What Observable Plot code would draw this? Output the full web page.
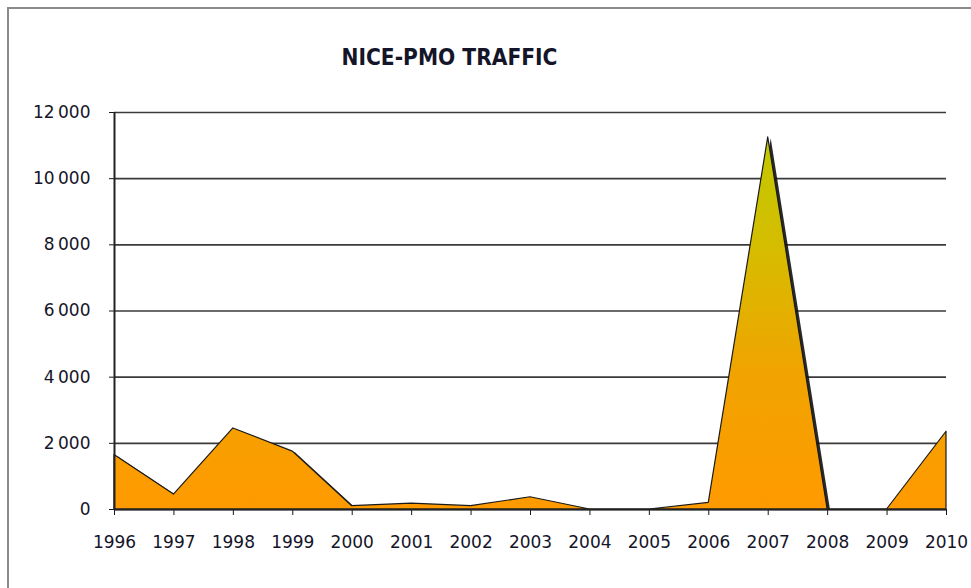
<!DOCTYPE html>
<html>
<head>
<meta charset="utf-8">
<script src="https://cdn.jsdelivr.net/npm/d3@7"></script>
<script src="https://cdn.jsdelivr.net/npm/@observablehq/plot@0.6"></script>
<style>
  html, body { margin: 0; padding: 0; background: #fff; overflow: hidden; }
  #wrap { position: relative; width: 971px; height: 588px; }
  #frame { position: absolute; left: 7px; top: 7px; width: 1000px; height: 1000px; border-left: 2px solid #8a8a8a; border-top: 2px solid #8a8a8a; }
  #title { position: absolute; left: 0; width: 899px; top: 44px; text-align: center; font-family: "DejaVu Sans Condensed", "DejaVu Sans", sans-serif; font-weight: bold; font-size: 22.5px; color: #15152a; }
  #chart { position: absolute; left: 0; top: 0; }
</style>
</head>
<body>
<div id="wrap">
  <div id="frame"></div>
  <div id="chart"></div>
  <div id="title">NICE-PMO TRAFFIC</div>
</div>
<script>
const years = [1996, 1997, 1998, 1999, 2000, 2001, 2002, 2003, 2004, 2005, 2006, 2007, 2008, 2009, 2010];
const traffic = [1650, 450, 2450, 1750, 100, 180, 100, 370, 0, 0, 200, 11250, 0, 0, 2350];
const yTicks = [0, 2000, 4000, 6000, 8000, 10000, 12000];

const data = years.map((y, i) => ({year: y, value: traffic[i]}));
const fmt = v => d3.format(",")(v).replace(/,/g, "\u2009");

const chart = Plot.plot({
  width: 971,
  height: 588,
  marginLeft: 114,
  marginRight: 25,
  marginTop: 112,
  marginBottom: 79,
  style: {fontFamily: "DejaVu Sans, sans-serif", fontSize: "17px", color: "#15152a", background: "transparent"},
  x: {domain: [1996, 2010], ticks: years, tickFormat: d => String(d), tickSize: 6, tickPadding: 20, label: null},
  y: {domain: [0, 12000], ticks: yTicks, tickFormat: fmt, tickSize: 5, tickPadding: 19, label: null},
  marks: [
    Plot.ruleY(yTicks, {stroke: "#3a3a3a", strokeWidth: 1.6}),
    Plot.areaY(data, {x: "year", y: "value", fill: "#111", dx: 3, dy: 1.5, fillOpacity: 0.9, clip: true}),
    Plot.areaY(data, {x: "year", y: "value", fill: "url(#trafficGrad)", stroke: "#1a1a1a", strokeWidth: 1.2}),
    Plot.ruleX([1996], {stroke: "#222", strokeWidth: 2}),
    Plot.ruleY([0], {stroke: "#222", strokeWidth: 2})
  ]
});

const ns = "http://www.w3.org/2000/svg";
const defs = document.createElementNS(ns, "defs");
const grad = document.createElementNS(ns, "linearGradient");
grad.setAttribute("id", "trafficGrad");
grad.setAttribute("gradientUnits", "userSpaceOnUse");
grad.setAttribute("x1", "0"); grad.setAttribute("x2", "0");
grad.setAttribute("y1", "112"); grad.setAttribute("y2", "509");
[["0", "#bccc00"], ["0.35", "#d6bc00"], ["0.65", "#f0a400"], ["1", "#ff9a00"]].forEach(([o, c]) => {
  const s = document.createElementNS(ns, "stop");
  s.setAttribute("offset", o); s.setAttribute("stop-color", c);
  grad.appendChild(s);
});
defs.appendChild(grad);
chart.insertBefore(defs, chart.firstChild);

document.getElementById("chart").appendChild(chart);
</script>
</body>
</html>
